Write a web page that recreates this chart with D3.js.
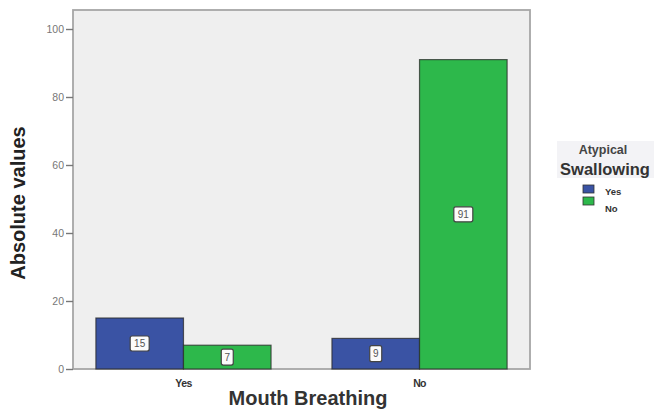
<!DOCTYPE html>
<html>
<head>
<meta charset="utf-8">
<script src="https://cdn.jsdelivr.net/npm/d3@7"></script>
<style>
  body { margin: 0; background: #fff; }
  text { font-family: "Liberation Sans", Arial, sans-serif; }
</style>
</head>
<body>
<div id="chart"></div>
<script>
const categories = ["Yes", "No"];
const groups = ["Yes", "No"];
const yesValues = [15, 9];
const noValues = [7, 91];
const yTicks = [0, 20, 40, 60, 80, 100];
const colors = ["#3a53a4", "#2db84b"];

const width = 654;
const height = 413;

const svg = d3.select("#chart")
	.append("svg")
	.attr("width", width)
	.attr("height", height);

const plot = { left: 73, right: 530, top: 10, bottom: 369 };

// plot background
svg.append("rect")
	.attr("x", plot.left)
	.attr("y", plot.top)
	.attr("width", plot.right - plot.left)
	.attr("height", plot.bottom - plot.top)
	.attr("fill", "#efefef")
	.attr("stroke", "#a6a6a6")
	.attr("stroke-width", 1.8);

const y = d3.scaleLinear().domain([0, 100]).range([369, 29]);

const x = d3.scaleBand()
	.domain(categories)
	.range([plot.left, plot.right])
	.paddingInner(0.258)
	.paddingOuter(0.097);

const xSub = d3.scaleBand()
	.domain(groups)
	.range([0, x.bandwidth()]);

const data = categories.map((c, i) => ({ cat: c, values: [yesValues[i], noValues[i]] }));

const barG = svg.append("g");
data.forEach(d => {
	groups.forEach((g, j) => {
		const v = d.values[j];
		const bx = x(d.cat) + xSub(g);
		barG.append("rect")
			.attr("x", bx)
			.attr("y", y(v))
			.attr("width", xSub.bandwidth())
			.attr("height", y(0) - y(v))
			.attr("fill", colors[j])
			.attr("stroke", "#2a2a2a")
			.attr("stroke-opacity", 0.75)
			.attr("stroke-width", 1.2);

		// value label box
		const cx = bx + xSub.bandwidth() / 2;
		const cy = y(v / 2);
		const label = String(v);
		const bw = label.length > 1 ? 19 : 12;
		const bh = label.length > 1 ? 15 : 16;
		barG.append("rect")
			.attr("x", cx - bw / 2)
			.attr("y", cy - bh / 2)
			.attr("width", bw)
			.attr("height", bh)
			.attr("rx", 2)
			.attr("fill", "#fbfbfb")
			.attr("stroke", "#444")
			.attr("stroke-width", 1.2);
		barG.append("text")
			.attr("x", cx)
			.attr("y", cy + 3.5)
			.attr("text-anchor", "middle")
			.attr("font-size", 10)
			.attr("fill", "#555")
			.text(label);
	});
});

// y axis
const yAxis = svg.append("g")
	.attr("transform", `translate(${plot.left},0)`)
	.call(d3.axisLeft(y).tickValues(yTicks).tickSize(7).tickPadding(2));
yAxis.select(".domain").remove();
yAxis.selectAll("line").attr("stroke", "#777").attr("stroke-width", 1.4);
yAxis.selectAll("text").attr("font-size", 10.5).attr("fill", "#777");

// x axis labels
const xAxis = svg.append("g")
	.attr("transform", `translate(0,${plot.bottom})`)
	.call(d3.axisBottom(x).tickSize(0).tickPadding(11));
xAxis.select(".domain").remove();
xAxis.selectAll("text")
	.attr("font-size", 10.5)
	.attr("font-weight", "bold")
	.attr("fill", "#333")
	.attr("letter-spacing", -0.6);

svg.append("text")
	.attr("x", 308)
	.attr("y", 405)
	.attr("text-anchor", "middle")
	.attr("font-size", 20)
	.attr("font-weight", "bold")
	.attr("fill", "#333")
	.text("Mouth Breathing");

svg.append("text")
	.attr("transform", "translate(25,203) rotate(-90)")
	.attr("text-anchor", "middle")
	.attr("font-size", 20)
	.attr("font-weight", "bold")
	.attr("fill", "#222")
	.text("Absolute values");

// legend
const legend = svg.append("g");
legend.append("rect")
	.attr("x", 557)
	.attr("y", 141)
	.attr("width", 97)
	.attr("height", 37)
	.attr("fill", "#f3f3f6");
legend.append("text")
	.attr("x", 603)
	.attr("y", 154)
	.attr("text-anchor", "middle")
	.attr("font-size", 12.5)
	.attr("font-weight", "bold")
	.attr("fill", "#444")
	.text("Atypical");
legend.append("text")
	.attr("x", 605)
	.attr("y", 175)
	.attr("text-anchor", "middle")
	.attr("font-size", 16.5)
	.attr("font-weight", "bold")
	.attr("fill", "#333")
	.text("Swallowing");

groups.forEach((g, i) => {
	legend.append("rect")
		.attr("x", 583)
		.attr("y", 185 + i * 12)
		.attr("width", 11)
		.attr("height", 8)
		.attr("fill", colors[i])
		.attr("stroke", "#333")
		.attr("stroke-width", 0.8);
	legend.append("text")
		.attr("x", 605)
		.attr("y", 195 + i * 17)
		.attr("font-size", 9.5)
		.attr("font-weight", "bold")
		.attr("fill", "#333")
		.text(g);
});
</script>
</body>
</html>
